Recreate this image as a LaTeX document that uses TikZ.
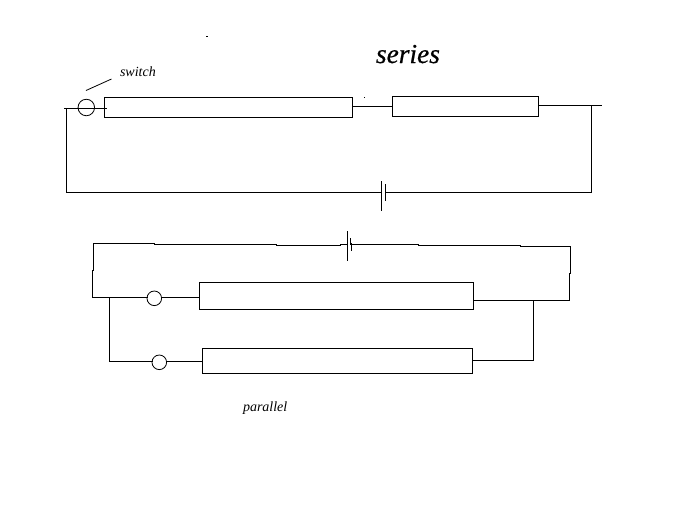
\documentclass[tikz,border=0pt]{standalone}
\usepackage{fontspec}
\setmainfont{Liberation Serif}
\newfontfamily\headfont[ItalicFeatures={FakeBold=0.6}]{Liberation Serif}
\tikzset{
  wire/.style={line width=1pt,black,line cap=rect},
  thinwire/.style={line width=0.8pt,black},
  resistor/.style={draw,line width=1pt,rectangle,inner sep=0pt,outer sep=0pt},
  swcircle/.style={draw,line width=0.8pt,circle,inner sep=0pt,outer sep=0pt},
  lbl/.style={inner sep=0pt,outer sep=0pt,anchor=base west,font=\itshape\fontsize{14}{14}\selectfont},
  title/.style={inner sep=0pt,outer sep=0pt,anchor=base west,font=\headfont\itshape\fontsize{27.4}{27.4}\selectfont},
  speck/.style={fill=black,inner sep=0pt,outer sep=0pt,rectangle}
}
\begin{document}
\begin{tikzpicture}[x=1pt,y=-1pt]
\useasboundingbox (0,0) rectangle (682,512);
% labels
\node[title] (series) at (376,63) {series};
\node[lbl] (switch) at (120,76) {switch};
\node[lbl] (parallel) at (243,411) {parallel};
\node[speck,minimum width=2pt,minimum height=1pt] (speckA) at (207,36) {};
\node[speck,minimum width=1pt,minimum height=1pt] (speckB) at (364,97.5) {};
% series circuit
\node[resistor,minimum width=248pt,minimum height=20pt] (r1) at (228.5,107.5) {};
\node[resistor,minimum width=146.5pt,minimum height=20pt] (r2) at (465.5,106.5) {};
\node[swcircle,minimum size=16.5pt] (s1) at (86.3,107.5) {};
\coordinate (ltip) at (64.5,108.5);
\coordinate (lcorner) at (66.5,108.5);
\coordinate (rin) at (106.5,108.5);
\coordinate (lbot) at (66.5,192.5);
\coordinate (bplateA) at (381.5,181);
\coordinate (bplateB) at (381.5,210);
\coordinate (bshortA) at (385.5,184);
\coordinate (bshortB) at (385.5,200);
\coordinate (rbot) at (591.5,192.5);
\coordinate (rtop) at (591.5,105.5);
\coordinate (rtip) at (601,105.5);
\coordinate (leadA) at (86,90.5);
\coordinate (leadB) at (111.5,79);
\draw[wire] (ltip) -- (rin);
\draw[wire] (lcorner) -- (lbot) -- (lbot -| bplateA);
\draw[wire] (bplateA) -- (bplateB);
\draw[wire] (bshortA) -- (bshortB);
\draw[wire] (bshortA |- rbot) -- (rbot) -- (rtop);
\draw[wire] (r2.east |- rtip) -- (rtip);
\draw[wire] (r1.east |- 0,106.5) -- (r2.west |- 0,106.5);
\draw[thinwire] (leadA) -- (leadB);
% parallel circuit
\node[resistor,minimum width=274pt,minimum height=27pt] (r3) at (336.3,295.8) {};
\node[resistor,minimum width=270.4pt,minimum height=25pt] (r4) at (337.5,360.8) {};
\node[swcircle,minimum size=14.6pt] (s2) at (154.3,298.3) {};
\node[swcircle,minimum size=14.6pt] (s3) at (159.3,362.3) {};
\coordinate (pa) at (93.5,270.5);
\coordinate (pb) at (93.5,243.5);
\coordinate (pc) at (154,243.5);
\coordinate (pd) at (154,244.5);
\coordinate (pe) at (276,244.5);
\coordinate (pf) at (276,245.5);
\coordinate (pg) at (340,245.5);
\coordinate (ph) at (340,244.5);
\coordinate (pplateA) at (347.5,231);
\coordinate (pplateB) at (347.5,260.5);
\coordinate (pshortA) at (350.5,238);
\coordinate (pshortB) at (350.5,245);
\coordinate (pshortC) at (351.5,243);
\coordinate (pshortD) at (351.5,251);
\coordinate (qa) at (352,244.5);
\coordinate (qb) at (418,244.5);
\coordinate (qc) at (418,245.5);
\coordinate (qd) at (520,245.5);
\coordinate (qe) at (520,246.5);
\coordinate (qf) at (570.5,246.5);
\coordinate (qg) at (570.5,273.5);
\coordinate (qh) at (569.5,273.5);
\coordinate (qi) at (569.5,300.5);
\coordinate (la) at (92.5,270.5);
\coordinate (lb) at (92.5,297.5);
\coordinate (bl) at (109.5,297.5);
\coordinate (bb) at (109.5,361.5);
\coordinate (bt) at (533.5,300.5);
\coordinate (bu) at (533.5,360.5);
\draw[wire] (pa) -- (pb) -- (pc);
\draw[wire] (pd) -- (pe);
\draw[wire] (pf) -- (pg);
\draw[wire] (ph) -- (ph -| pplateA);
\draw[wire] (pplateA) -- (pplateB);
\draw[thinwire] (pshortA) -- (pshortB);
\draw[thinwire] (pshortC) -- (pshortD);
\draw[wire] (qa) -- (qb);
\draw[wire] (qc) -- (qd);
\draw[wire] (qe) -- (qf) -- (qg);
\draw[wire] (qh) -- (qi) -- (r3.east |- qi);
\draw[wire] (la) -- (lb) -- (s2.west |- lb);
\draw[wire] (s2.east |- lb) -- (r3.west |- lb);
\draw[wire] (bl) -- (bb) -- (s3.west |- bb);
\draw[wire] (s3.east |- bb) -- (r4.west |- bb);
\draw[wire] (bt) -- (bu) -- (r4.east |- bu);
\end{tikzpicture}
\end{document}
